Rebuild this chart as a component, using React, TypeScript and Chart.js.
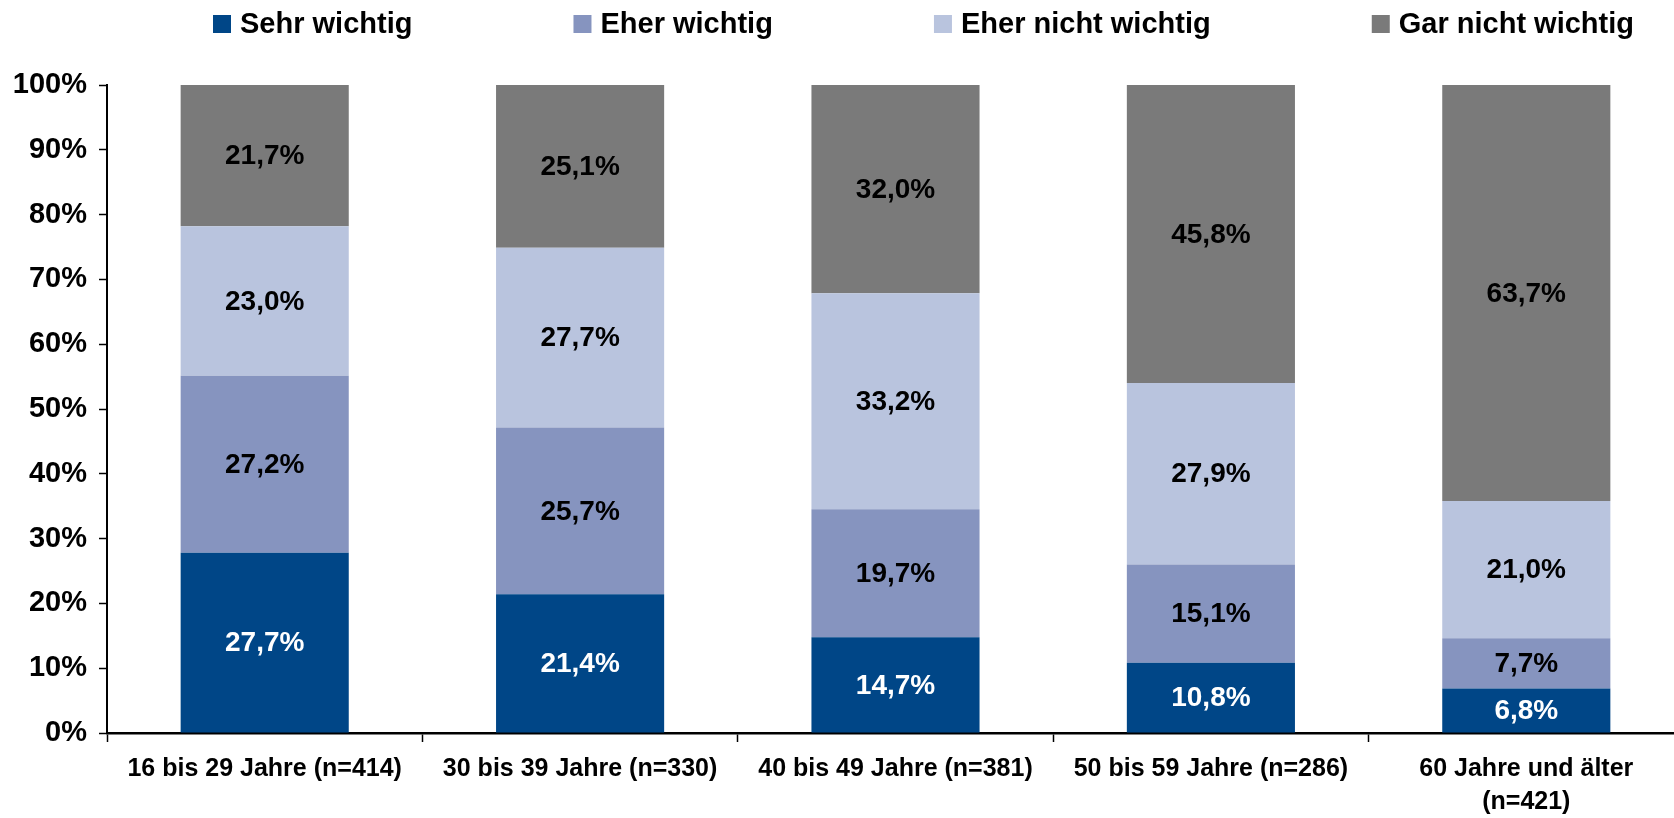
import React, { useEffect, useRef } from "react";
import { Chart, registerables } from "chart.js";

Chart.register(...registerables);

const categories: (string | string[])[] = [
  "16 bis 29 Jahre (n=414)",
  "30 bis 39 Jahre (n=330)",
  "40 bis 49 Jahre (n=381)",
  "50 bis 59 Jahre (n=286)",
  ["60 Jahre und älter", "(n=421)"],
];

const seriesNames = ["Sehr wichtig", "Eher wichtig", "Eher nicht wichtig", "Gar nicht wichtig"];
const sehrWichtig = [27.7, 21.4, 14.7, 10.8, 6.8];
const eherWichtig = [27.2, 25.7, 19.7, 15.1, 7.7];
const eherNichtWichtig = [23.0, 27.7, 33.2, 27.9, 21.0];
const garNichtWichtig = [21.7, 25.1, 32.0, 45.8, 63.7];
const seriesColors = ["#004687", "#8694BF", "#B9C4DE", "#7A7A7A"];
const labelColors = ["#FFFFFF", "#000000", "#000000", "#000000"];
const yTicks = [0, 10, 20, 30, 40, 50, 60, 70, 80, 90, 100];

const FONT = "'Liberation Sans', Arial, Helvetica, sans-serif";

const fmt = (v: number) => v.toFixed(1).replace(".", ",") + "%";

const valueLabels = {
  id: "valueLabels",
  afterDatasetsDraw(chart: any) {
    const ctx = chart.ctx;
    ctx.save();
    ctx.font = `bold 28px ${FONT}`;
    ctx.textAlign = "center";
    ctx.textBaseline = "middle";
    chart.data.datasets.forEach((ds: any, di: number) => {
      const meta = chart.getDatasetMeta(di);
      meta.data.forEach((el: any, i: number) => {
        const raw = ds.rawValues[i];
        ctx.fillStyle = labelColors[di];
        ctx.fillText(fmt(raw), el.x, (el.y + el.base) / 2 + 1);
      });
    });
    ctx.restore();
  },
};

const topLegend = {
  id: "topLegend",
  afterDraw(chart: any) {
    const ctx = chart.ctx;
    ctx.save();
    ctx.font = `bold 29px ${FONT}`;
    ctx.textBaseline = "middle";
    ctx.textAlign = "left";
    const box = 18;
    const gapText = 9;
    const startX = 213;
    const endX = 1634;
    const widths = seriesNames.map((n) => box + gapText + ctx.measureText(n).width);
    const total = widths.reduce((a, b) => a + b, 0);
    const gap = (endX - startX - total) / (seriesNames.length - 1);
    let x = startX;
    const yc = 24;
    seriesNames.forEach((n, i) => {
      ctx.fillStyle = seriesColors[i];
      ctx.fillRect(x, yc - box / 2, box, box);
      ctx.fillStyle = "#000000";
      ctx.fillText(n, x + box + gapText, yc + 1);
      x += widths[i] + gap;
    });
    ctx.restore();
  },
};

export default function App() {
  const ref = useRef<HTMLCanvasElement | null>(null);

  useEffect(() => {
    if (!ref.current) return;
    const raw = [sehrWichtig, eherWichtig, eherNichtWichtig, garNichtWichtig];
    const totals = categories.map((_, i) => raw.reduce((s, arr) => s + arr[i], 0));
    const chart = new Chart(ref.current, {
      type: "bar",
      data: {
        labels: categories as any,
        datasets: raw.map((arr, di) => ({
          label: seriesNames[di],
          data: arr.map((v, i) => (v / totals[i]) * 100),
          rawValues: arr,
          backgroundColor: seriesColors[di],
          borderWidth: 0,
          categoryPercentage: 1,
          barPercentage: 0.533,
        })) as any,
      },
      options: {
        responsive: false,
        animation: false,
        devicePixelRatio: 1,
        layout: { padding: { top: 85, left: 0, right: 0, bottom: 0 } },
        plugins: {
          legend: { display: false },
          tooltip: { enabled: false },
          title: { display: false },
        },
        scales: {
          x: {
            stacked: true,
            offset: true,
            afterFit: (s: any) => {
              s.height = 85;
            },
            grid: {
              offset: true,
              drawOnChartArea: false,
              drawTicks: true,
              tickLength: 9,
              tickColor: "#000000",
              tickWidth: 1.5,
            },
            border: { color: "#000000", width: 2.5 },
            ticks: {
              color: "#000000",
              padding: 11,
              maxRotation: 0,
              autoSkip: false,
              font: { family: FONT, size: 25, weight: "bold", lineHeight: 1.32 },
            },
          },
          y: {
            stacked: true,
            min: 0,
            max: 100,
            afterFit: (s: any) => {
              s.width = 107;
            },
            afterBuildTicks: (s: any) => {
              s.ticks = yTicks.map((v) => ({ value: v }));
            },
            grid: {
              drawOnChartArea: false,
              drawTicks: true,
              tickLength: 8,
              tickColor: "#000000",
              tickWidth: 1.5,
            },
            border: { color: "#000000", width: 2 },
            ticks: {
              color: "#000000",
              padding: 12,
              callback: (v: any) => v + "%",
              font: { family: FONT, size: 29, weight: "bold" },
            },
          },
        },
      },
      plugins: [valueLabels, topLegend],
    });
    return () => chart.destroy();
  }, []);

  return (
    <div
      style={{
        position: "absolute",
        left: 0,
        top: 0,
        width: 1674,
        height: 818,
        overflow: "hidden",
        background: "#ffffff",
      }}
    >
      <canvas ref={ref} width={1684} height={818} style={{ display: "block", width: 1684, height: 818 }} />
    </div>
  );
}
